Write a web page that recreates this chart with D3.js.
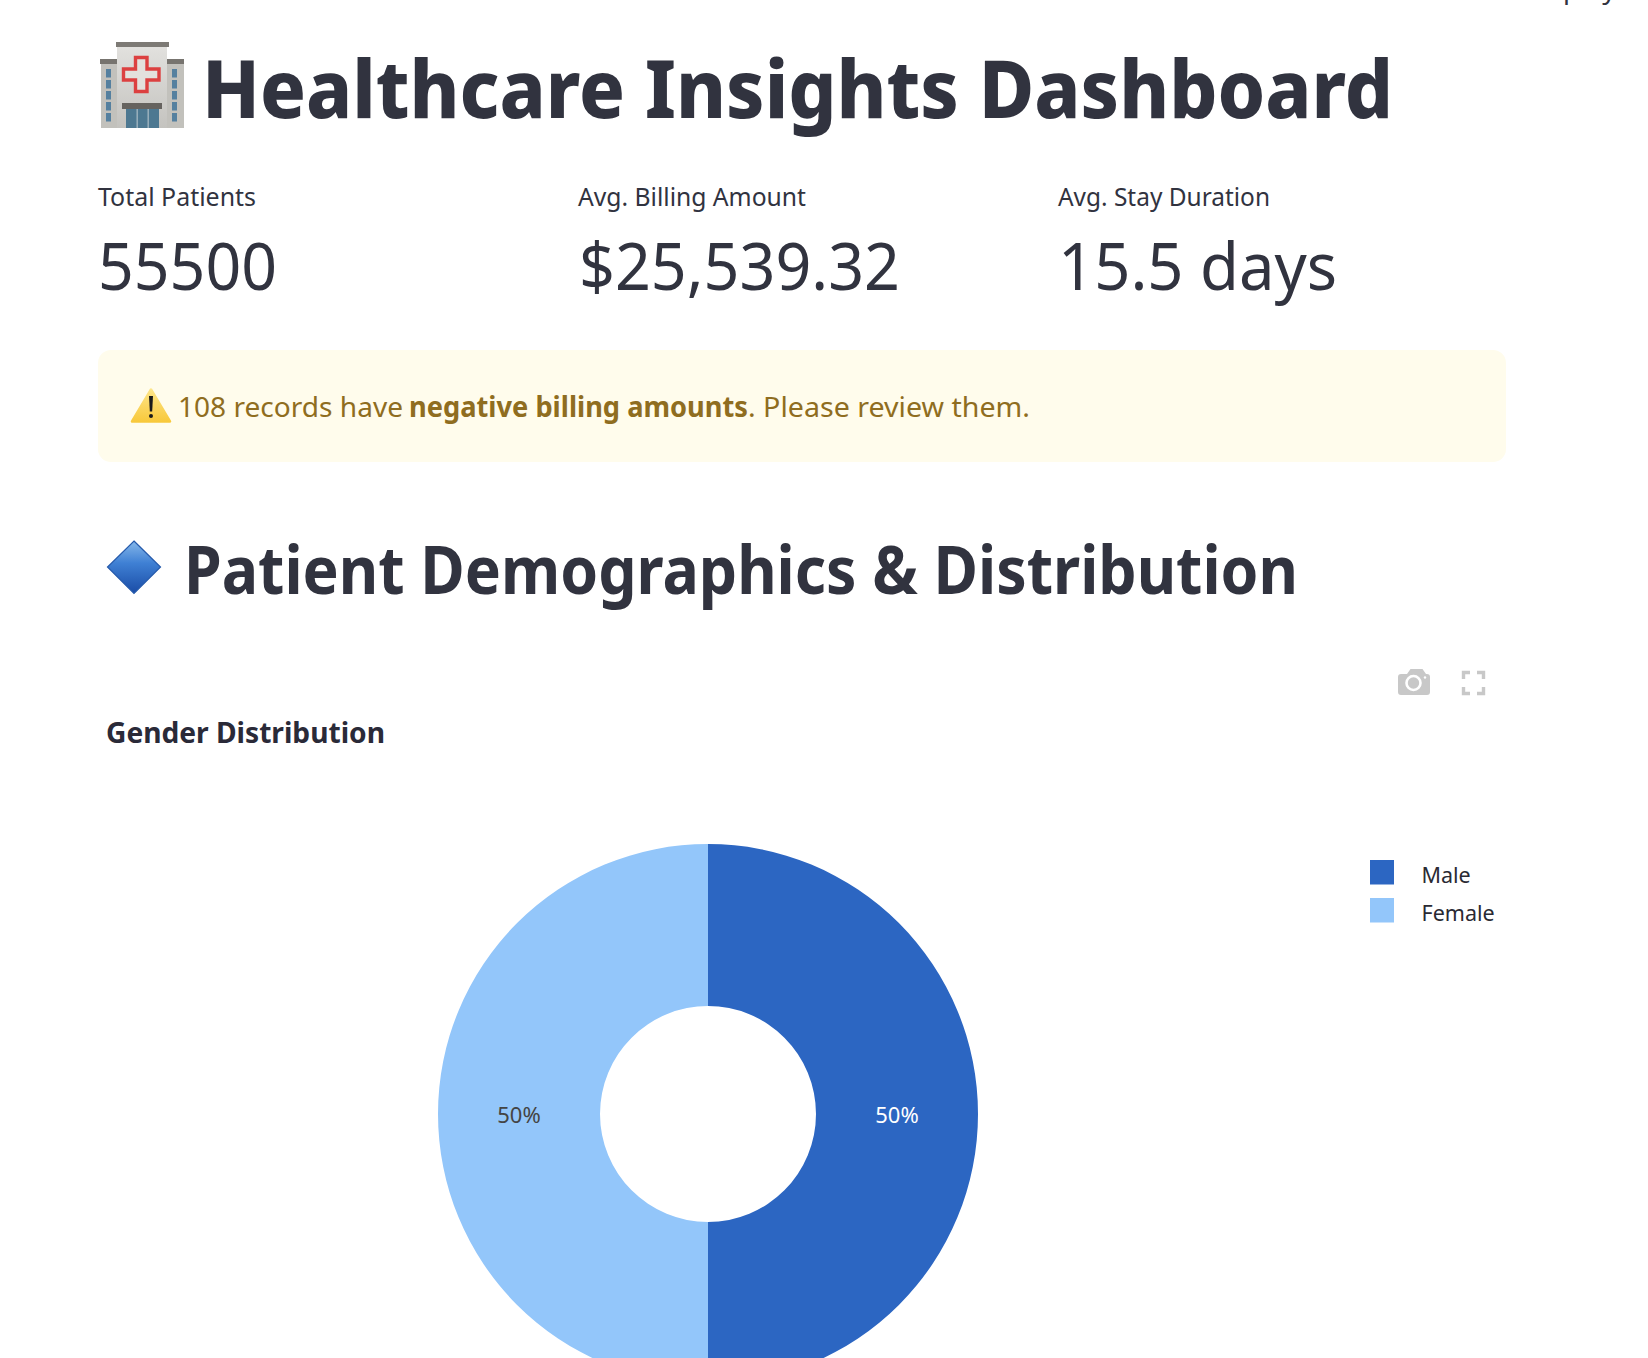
<!DOCTYPE html>
<html>
<head>
	<title>Healthcare Insights Dashboard</title>
	<meta charset="UTF-8">
	<style>
		html, body {
			margin: 0;
			padding: 0;
			background: #fff;
			overflow: hidden;
		}

		svg {
			display: block;
		}

		text {
			font-family: "Noto Sans", sans-serif;
			fill: #31333f;
		}
	</style>
</head>
<body>
<script src="https://d3js.org/d3.v7.min.js"></script>
<script type="text/javascript">

'use strict';

var genders = ["Male", "Female"];
var genderShare = [50, 50];
var genderColors = ["#2c66c2", "#93c6fa"];
var shareLabelColors = ["#ffffff", "#444444"];

var metricLabels = ["Total Patients", "Avg. Billing Amount", "Avg. Stay Duration"];
var metricValues = ["55500", "$25,539.32", "15.5 days"];

var width = 1648;
var height = 1358;

var svg = d3.select("body").append("svg")
	.attr("width", width)
	.attr("height", height);

var defs = svg.append("defs");

// width-fitted text, the original face is narrower than anything installed
function label(parent, str, x, y, w, size, weight, color){
	return parent.append("text")
		.attr("x", x)
		.attr("y", y)
		.attr("textLength", w)
		.attr("lengthAdjust", "spacingAndGlyphs")
		.style("font-size", size + "px")
		.style("font-weight", weight)
		.style("fill", color || "#31333f")
		.text(str);
}

function gradient(id, stops){
	var grad = defs.append("linearGradient")
		.attr("id", id)
		.attr("x1", 0).attr("y1", 0).attr("x2", 0).attr("y2", 1);
	stops.forEach(function(s){
		grad.append("stop").attr("offset", s[0]).attr("stop-color", s[1]);
	});
}

function hospital(g){
	gradient("towerFill", [[0, "#e2e1de"], [1, "#c4c3bf"]]);
	g.append("rect").attr("x", 101).attr("y", 62).attr("width", 83).attr("height", 66).attr("fill", "#c2c1bc");
	g.append("rect").attr("x", 100).attr("y", 59).attr("width", 84).attr("height", 5).attr("fill", "#77746f");
	g.append("rect").attr("x", 117).attr("y", 46).attr("width", 50).attr("height", 82).attr("fill", "url(#towerFill)");
	g.append("rect").attr("x", 116).attr("y", 42).attr("width", 53).attr("height", 5).attr("fill", "#7d7a75");

	[69, 80, 91, 102, 113].forEach(function(y){
		[106, 172].forEach(function(x){
			g.append("rect").attr("x", x).attr("y", y).attr("width", 5).attr("height", 8.5).attr("fill", "#55809f");
		});
	});

	g.append("path")
		.attr("d", "M135.5 57.5h11.5v11.5h12v11h-12v11.5h-11.5v-11.5h-12v-11h12z")
		.attr("fill", "#e3e1dd")
		.attr("stroke", "#dc4040")
		.attr("stroke-width", 3.4);

	g.append("rect").attr("x", 126).attr("y", 107).attr("width", 33).attr("height", 21).attr("fill", "#4d7891");
	[136.5, 147.5].forEach(function(x){
		g.append("rect").attr("x", x).attr("y", 108).attr("width", 1.4).attr("height", 20).attr("fill", "#9fb3bf");
	});
	g.append("rect").attr("x", 122).attr("y", 103).attr("width", 40).attr("height", 6).attr("fill", "#66635f");
}

function warningSign(g){
	gradient("warnFill", [[0, "#fde588"], [1, "#f8c93c"]]);

	g.append("path")
		.attr("d", "M151 389.5L170 421.5H132z")
		.attr("fill", "url(#warnFill)")
		.attr("stroke", "url(#warnFill)")
		.attr("stroke-width", 2.5)
		.attr("stroke-linejoin", "round");
	g.append("path")
		.attr("d", "M149 396h4l-.8 15.5h-2.4z")
		.attr("fill", "#1a1a1a");
	g.append("circle").attr("cx", 151).attr("cy", 416).attr("r", 2).attr("fill", "#1a1a1a");
}

function diamond(g){
	gradient("diamondFill", [[0, "#86b8ea"], [0.42, "#3f80d4"], [1, "#1a4ca6"]]);

	g.append("path")
		.attr("d", "M134 541L160.5 567L134 593.5L107.5 567z")
		.attr("fill", "url(#diamondFill)")
		.attr("stroke", "#2459ab")
		.attr("stroke-width", 1.2);
}

function cameraIcon(g){
	g.append("path")
		.attr("d", "M1401 674h6l3.5-5h12l3.5 5h1a3 3 0 0 1 3 3v15a3 3 0 0 1-3 3h-26a3 3 0 0 1-3-3v-15a3 3 0 0 1 3-3z")
		.attr("fill", "#c8c8c8");
	g.append("circle").attr("cx", 1413.5).attr("cy", 683).attr("r", 7).attr("fill", "none").attr("stroke", "#fff").attr("stroke-width", 2.6);
	g.append("circle").attr("cx", 1425).attr("cy", 677.5).attr("r", 1.2).attr("fill", "#fff");
}

function fullscreenIcon(g){
	g.append("path")
		.attr("d", "M1463.5 679v-6.5h6.5M1477 672.5h6.5v6.5M1483.5 687v6.5h-6.5M1470 693.5h-6.5v-6.5")
		.attr("fill", "none")
		.attr("stroke", "#c8c8c8")
		.attr("stroke-width", 3.4);
}

// header
label(svg, "Deploy", 1528, -1, 88, 26, 400);
hospital(svg.append("g"));
label(svg, "Healthcare Insights Dashboard", 202, 118, 1191, 81, 800);

// metrics
var metricX = d3.scaleBand().domain(metricLabels).range([98, 1058 + 480]);
var labelWidths = [158, 228, 212];
var valueWidths = [179, 321, 279];
var valueOffsets = [0, 1, 0];

metricLabels.forEach(function(d, i){
	var x = metricX(d);
	label(svg, d, x, 206, labelWidths[i], 25, 400);
	label(svg, metricValues[i], x + valueOffsets[i], 290, valueWidths[i], 66, 400);
});

// warning box
svg.append("rect")
	.attr("x", 98)
	.attr("y", 350)
	.attr("width", 1408)
	.attr("height", 112)
	.attr("rx", 13)
	.attr("fill", "#fffcec");
warningSign(svg.append("g"));
label(svg, "108 records have", 178, 417, 225, 28, 400, "#8f6d20");
label(svg, "negative billing amounts", 409, 417, 339, 28, 700, "#8f6d20");
label(svg, ". Please review them.", 748, 417, 282, 28, 400, "#8f6d20");

// section heading
diamond(svg.append("g"));
label(svg, "Patient Demographics & Distribution", 184, 594, 1114, 66, 700);

// chart
cameraIcon(svg.append("g"));
fullscreenIcon(svg.append("g"));
label(svg, "Gender Distribution", 106, 743, 279, 28, 700, "#2a2a38");

var cx = 708;
var cy = 1114;
var outerRadius = 270;
var innerRadius = 108;

var color = d3.scaleOrdinal().domain(genders).range(genderColors);
var labelColor = d3.scaleOrdinal().domain(genders).range(shareLabelColors);

var pie = d3.pie().sort(null).value(function(d){ return d.share; });
var arc = d3.arc().innerRadius(innerRadius).outerRadius(outerRadius);

var slices = pie(genders.map(function(name, i){ return {name: name, share: genderShare[i]}; }));

var donut = svg.append("g")
	.attr("transform", "translate(" + cx + "," + cy + ")");

donut.selectAll("path")
	.data(slices)
.enter().append("path")
	.attr("d", arc)
	.attr("fill", function(d){ return color(d.data.name); });

donut.selectAll("text")
	.data(slices)
.enter().append("text")
	.attr("transform", function(d){ return "translate(" + arc.centroid(d) + ")"; })
	.attr("y", 8.5)
	.attr("text-anchor", "middle")
	.style("font-size", "22px")
	.style("fill", function(d){ return labelColor(d.data.name); })
	.text(function(d){ return d3.format(".0f")(d.value / d3.sum(genderShare) * 100) + "%"; });

// legend
var legendY = d3.scaleBand().domain(genders).range([860, 936]);

var legend = svg.selectAll(".legend")
	.data(genders)
.enter().append("g")
	.attr("class", "legend")
	.attr("transform", function(d){ return "translate(1370," + legendY(d) + ")"; });

legend.append("rect")
	.attr("width", 24)
	.attr("height", 24.5)
	.attr("fill", function(d){ return color(d); });

legend.append("text")
	.attr("x", 51.5)
	.attr("y", 22.5)
	.style("font-size", "21.5px")
	.style("fill", "#2a2a33")
	.text(function(d){ return d; });

</script>
</body>
</html>
